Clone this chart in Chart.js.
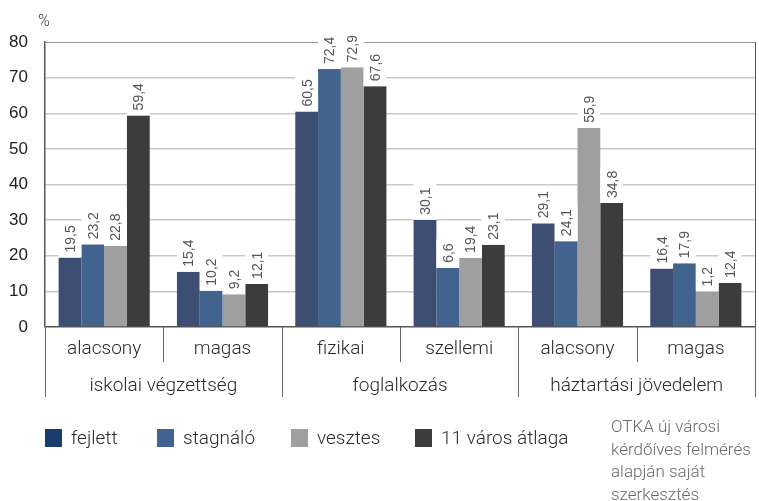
<!DOCTYPE html>
<html>
<head>
<meta charset="utf-8">
<script src="https://cdn.jsdelivr.net/npm/chart.js@4.4.1/dist/chart.umd.min.js"></script>
<style>
  html, body { margin: 0; padding: 0; background: #fff; }
  #wrap { position: relative; width: 759px; height: 501px; }
</style>
</head>
<body>
<div id="wrap"><canvas id="chart"></canvas></div>
<script>
// Categories and groups
const categories = ['alacsony', 'magas', 'fizikai', 'szellemi', 'alacsony', 'magas'];
const groups = ['iskolai végzettség', 'foglalkozás', 'háztartási jövedelem'];

// Bar heights as drawn
const fejlett = [19.5, 15.5, 60.5, 30.1, 29.1, 16.4];
const stagnalo = [23.2, 10.2, 72.4, 16.6, 24.1, 17.9];
const vesztes = [22.8, 9.2, 72.9, 19.4, 55.9, 10.0];
const atlag = [59.4, 12.1, 67.6, 23.1, 34.8, 12.4];

// Value labels as printed on the bars
const fejlettLabels = ['19,5', '15,4', '60,5', '30,1', '29,1', '16,4'];
const stagnaloLabels = ['23,2', '10,2', '72,4', '6,6', '24,1', '17,9'];
const vesztesLabels = ['22,8', '9,2', '72,9', '19,4', '55,9', '1,2'];
const atlagLabels = ['59,4', '12,1', '67,6', '23,1', '34,8', '12,4'];

const yTicks = [0, 10, 20, 30, 40, 50, 60, 70, 80];

const seriesNames = ['fejlett', 'stagnáló', 'vesztes', '11 város átlaga'];
const barColors = ['#3d4e72', '#43638f', '#9f9f9f', '#3c3c3c'];
const legendColors = ['#1b3d6e', '#43638f', '#9f9f9f', '#3c3c3c'];
const sourceLines = ['OTKA új városi', 'kérdőíves felmérés', 'alapján saját', 'szerkesztés'];

const labelSets = [fejlettLabels, stagnaloLabels, vesztesLabels, atlagLabels];
const textFont = 'Roboto, "Noto Sans", sans-serif';
const numFont = '"Liberation Sans", Arial, sans-serif';

// value labels with white box, rotated
const valueLabels = {
    id: 'valueLabels',
    afterDatasetsDraw(chart) {
        const ctx = chart.ctx;
        ctx.save();
        ctx.font = '14px ' + numFont;
        chart.data.datasets.forEach((ds, di) => {
            const meta = chart.getDatasetMeta(di);
            meta.data.forEach((bar, i) => {
                const text = labelSets[di][i];
                const w = ctx.measureText(text).width;
                const top = bar.y;
                const half = bar.width / 2;
                ctx.fillStyle = '#fff';
                ctx.fillRect(bar.x - half, top - w - 9, bar.width, w + 9);
                ctx.save();
                ctx.translate(bar.x, top - 5);
                ctx.rotate(-Math.PI / 2);
                ctx.fillStyle = '#555';
                ctx.textAlign = 'left';
                ctx.textBaseline = 'middle';
                ctx.fillText(text, 0, 1);
                ctx.restore();
            });
        });
        ctx.restore();
    }
};

// axis boxes, group labels, legend and source
const decorations = {
    id: 'decorations',
    afterDraw(chart) {
        const ctx = chart.ctx;
        const area = chart.chartArea;
        const x = chart.scales.x;
        const catW = (area.right - area.left) / categories.length;
        ctx.save();

        // right frame line
        ctx.strokeStyle = '#555';
        ctx.lineWidth = 1;
        ctx.beginPath();
        ctx.moveTo(area.right + 0.5, area.top);
        ctx.lineTo(area.right + 0.5, area.bottom);
        ctx.stroke();

        // unit
        ctx.fillStyle = '#333';
        ctx.font = '300 16px ' + textFont;
        ctx.textAlign = 'center';
        ctx.textBaseline = 'middle';
        ctx.fillText('%', 44, 22);

        // category dividers
        ctx.strokeStyle = '#666';
        for (let i = 0; i <= categories.length; i++) {
            const px = Math.round(area.left + i * catW) + 0.5;
            ctx.beginPath();
            ctx.moveTo(px, area.bottom);
            ctx.lineTo(px, i % 2 === 0 ? 397 : 362);
            ctx.stroke();
        }

        // category labels
        ctx.fillStyle = '#2a2a2a';
        ctx.font = '300 19px ' + textFont;
        categories.forEach((c, i) => {
            ctx.fillText(c, x.getPixelForValue(i), 349);
        });
        groups.forEach((g, i) => {
            ctx.fillText(g, area.left + (i * 2 + 1) * catW, 386);
        });

        // legend
        const legendX = [45, 157, 291, 415];
        ctx.textAlign = 'left';
        ctx.font = '300 19px ' + textFont;
        seriesNames.forEach((name, i) => {
            ctx.fillStyle = legendColors[i];
            ctx.fillRect(legendX[i], 429, 17, 18);
            ctx.fillStyle = '#2a2a2a';
            ctx.fillText(name, legendX[i] + 26, 439);
        });

        // source note
        ctx.fillStyle = '#6a6a6a';
        ctx.font = '300 17px ' + textFont;
        ctx.textBaseline = 'alphabetic';
        sourceLines.forEach((line, i) => {
            ctx.fillText(line, 611, 432 + i * 22.5);
        });

        ctx.restore();
    }
};

function initChart() {
    const ctx = document.getElementById('chart').getContext('2d');
    const values = [fejlett, stagnalo, vesztes, atlag];

    new Chart(ctx, {
        type: 'bar',
        data: {
            labels: categories,
            datasets: values.map((v, i) => ({
                label: seriesNames[i],
                data: v,
                backgroundColor: barColors[i],
                borderWidth: 0,
                categoryPercentage: 0.77,
                barPercentage: 1.0
            }))
        },
        options: {
            responsive: true,
            maintainAspectRatio: false,
            animation: false,
            layout: {
                padding: { top: 42, right: 4, bottom: 174, left: 0 }
            },
            plugins: {
                legend: { display: false },
                tooltip: { enabled: false }
            },
            scales: {
                x: {
                    display: false
                },
                y: {
                    min: 0,
                    max: 80,
                    afterBuildTicks: function(scale) {
                        scale.ticks = yTicks.map(v => ({ value: v }));
                    },
                    afterFit: function(scale) {
                        scale.width = 45;
                    },
                    ticks: {
                        padding: 17,
                        color: '#222',
                        font: { family: numFont, size: 17 }
                    },
                    border: {
                        display: true,
                        color: '#555',
                        width: 1.5
                    },
                    grid: {
                        drawTicks: false,
                        color: function(context) {
                            if (context.tick.value === 0) return '#555';
                            if (context.tick.value === 80) return '#999';
                            return '#cacaca';
                        },
                        lineWidth: function(context) {
                            return context.tick.value === 80 ? 1 : 1.5;
                        }
                    }
                }
            }
        },
        plugins: [valueLabels, decorations]
    });
}

initChart();
</script>
</body>
</html>
